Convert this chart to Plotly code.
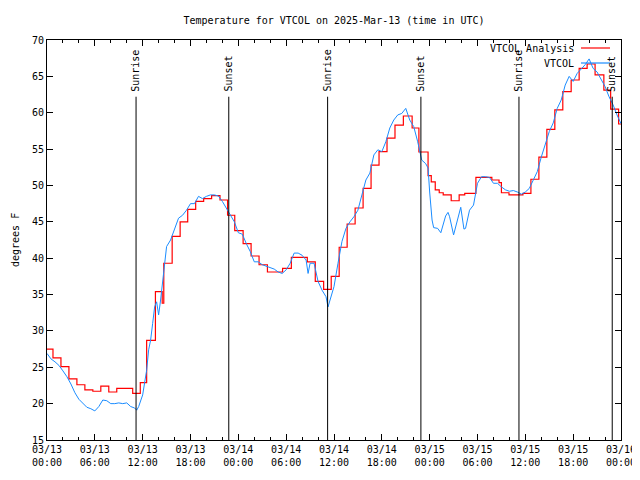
import plotly.graph_objects as go
import pandas as pd

# ---------------- data ----------------
START = pd.Timestamp("2025-03-13 00:00")

# VTCOL observations: hours since 2025-03-13 00:00 UTC, temperature (F)
obs_hours = [0, 0.5, 1, 1.5, 2, 2.5, 3, 3.5, 4, 4.5, 5, 5.5, 6, 6.5, 7, 7.5, 8, 8.5, 9, 9.5,
             10, 10.5, 11, 11.25, 11.5, 12, 12.5, 12.75, 13, 13.25, 13.5, 13.75, 14, 14.25, 14.5, 14.75,
             15, 15.5, 16, 16.5, 17, 17.5, 18, 18.5, 19, 19.5, 20, 20.5, 21, 21.5, 22, 22.5, 23, 23.5,
             24, 24.5, 25, 25.5, 26, 26.5, 27, 27.5, 28, 28.5, 29, 29.5, 30, 30.5, 31, 31.5, 32, 32.5,
             32.75, 33, 33.5, 34, 34.5, 35, 35.25, 35.5, 36, 36.5, 37, 37.5, 38, 38.5, 39, 39.5, 40,
             40.5, 41, 41.5, 42, 42.5, 43, 43.5, 44, 44.5, 45, 45.5, 46, 46.5, 47, 47.5, 47.8, 48, 48.3,
             48.5, 49, 49.4, 50, 50.3, 50.5, 51, 51.5, 51.9, 52.3, 52.5, 53, 53.5, 54, 54.5, 55, 55.5, 56,
             56.5, 57, 57.5, 58, 58.5, 59, 59.5, 60, 60.5, 61, 61.5, 62, 62.5, 63, 63.5, 64, 64.5, 65,
             65.5, 66, 66.5, 67, 67.5, 68, 68.5, 69, 69.5, 70, 70.5, 71, 71.5, 72]
obs_temps = [26.9, 26.15, 25.75, 25.25, 24.5, 23.7, 22.7, 21.5, 20.6, 20.0, 19.5, 19.3, 19.0, 19.6, 20.5, 20.4, 20.0, 20.0, 20.1, 20.0,
             20.1, 19.6, 19.4, 19.1, 19.6, 21.2, 24.6, 27.4, 28.75, 31.0, 33.3, 34.0, 32.2, 34.25, 37.0, 39.3,
             41.6, 42.5, 43.9, 45.5, 45.9, 46.6, 47.5, 47.5, 48.5, 48.2, 48.5, 48.7, 48.7, 48.55, 47.8, 46.85, 45.9, 45.0,
             43.5, 43.3, 42.0, 40.9, 39.5, 39.5, 39.1, 38.9, 38.6, 38.5, 38.1, 37.9, 38.4, 39.3, 40.7, 40.7, 40.4, 39.75,
             37.9, 39.3, 39.3, 36.8, 35.6, 34.7, 33.3, 34.3, 36.1, 39.3, 42.3, 44.1, 45.0, 45.7, 46.6, 48.7, 50.75,
             51.7, 54.2, 54.9, 54.65, 56.0, 57.9, 59.0, 59.7, 59.9, 60.6, 59.0, 58.1, 56.0, 53.5, 53.0, 52.4, 49.1, 45.25,
             44.2, 44.1, 43.5, 45.8, 46.3, 45.7, 43.2, 45.25, 47.0, 44.0, 44.1, 46.6, 47.3, 50.3, 51.2, 51.2, 51.1, 50.3,
             50.3, 49.8, 49.4, 49.2, 49.3, 49.1, 48.8, 49.1, 49.6, 50.75, 51.9, 53.9, 55.6, 57.4, 58.6, 60.6, 61.75, 63.8,
             65.0, 64.3, 65.4, 66.0, 66.6, 67.4, 66.1, 65.6, 64.5, 63.6, 62.2, 61.1, 59.7, 58.5]

# VTCOL Analysis: step start hours and values
ana_hours = [0, 0.75, 1.75, 2.75, 3.75, 4.75, 5.75, 6.75, 7.75, 8.75, 10.75, 11.7, 12.5, 13.6, 14.45, 14.65,
             15.7, 16.7, 17.65, 18.65, 19.65, 20.65, 21.7, 22.65, 23.55, 24.6, 25.6, 26.6, 27.65, 29.55,
             30.65, 32.65, 33.65, 34.7, 35.65, 36.65, 37.65, 38.65, 39.65, 40.65, 41.65, 42.65, 43.65, 44.7,
             45.8, 46.65, 47.8, 48.2, 48.7, 49.2, 49.7, 50.7, 51.7, 52.4, 53.8, 55.8, 56.7, 57.0, 57.95, 59.7,
             60.7, 61.7, 62.7, 63.7, 64.7, 65.75, 66.75, 67.75, 68.75, 69.85, 70.7, 71.7, 72]
ana_temps = [27.5, 26.3, 25.1, 23.4, 22.6, 21.9, 21.7, 22.4, 21.6, 22.1, 21.4, 22.9, 28.7, 35.4, 33.8, 39.3,
             43.0, 45.0, 46.7, 47.8, 48.2, 48.6, 48.0, 45.9, 43.8, 42.0, 40.3, 39.1, 38.1, 38.6,
             40.1, 39.5, 36.8, 35.7, 37.5, 41.5, 44.7, 46.9, 49.6, 52.8, 54.65, 56.5, 58.3, 59.55,
             57.9, 54.6, 51.35, 50.5, 49.4, 49.0, 48.7, 47.9, 48.7, 48.9, 51.1, 50.75, 50.4, 49.0, 48.7, 48.9,
             50.85, 53.9, 57.7, 60.4, 62.9, 64.5, 66.1, 66.7, 65.2, 63.1, 60.5, 58.45, 58.45]

# Sunrise / sunset markers
sun_hours = [11.17, 22.8, 35.2, 46.9, 59.2, 70.9]
sun_labels = ["Sunrise", "Sunset", "Sunrise", "Sunset", "Sunrise", "Sunset"]

# Axis ticks
tick_hours = [0, 6, 12, 18, 24, 30, 36, 42, 48, 54, 60, 66, 72]
tick_labels = ["03/13<br>00:00", "03/13<br>06:00", "03/13<br>12:00", "03/13<br>18:00",
               "03/14<br>00:00", "03/14<br>06:00", "03/14<br>12:00", "03/14<br>18:00",
               "03/15<br>00:00", "03/15<br>06:00", "03/15<br>12:00", "03/15<br>18:00",
               "03/16<br>00:00"]
y_ticks = [15, 20, 25, 30, 35, 40, 45, 50, 55, 60, 65, 70]

series_names = ["VTCOL Analysis", "VTCOL"]
series_colors = ["#ff0000", "#1a8cff"]

# ---------------- figure ----------------
def to_time(hours):
    return [START + pd.Timedelta(hours=h) for h in hours]

FONT = "DejaVu Sans Mono, Liberation Mono, monospace"
OFF = 8                      # page body margin of the html page
W, H = 640 - OFF, 480 - OFF
L, R, T, B = 47 - OFF, 19, 40 - OFF, 40
PW, PH = W - L - R, H - T - B   # 574 x 400, plot spans 47..621 / 40..440 on screen

fig = go.Figure()
fig.add_trace(go.Scatter(x=to_time(ana_hours), y=ana_temps, mode="lines",
                         line=dict(color=series_colors[0], width=1.2, shape="hv"),
                         name=series_names[0], showlegend=False))
fig.add_trace(go.Scatter(x=to_time(obs_hours), y=obs_temps, mode="lines",
                         line=dict(color=series_colors[1], width=1),
                         name=series_names[1], showlegend=False))

shapes = []
annotations = []
for h, lab in zip(sun_hours, sun_labels):
    tt = START + pd.Timedelta(hours=h)
    shapes.append(dict(type="line", xref="x", yref="y", x0=tt, x1=tt, y0=15, y1=62.2,
                       line=dict(color="black", width=1)))
    annotations.append(dict(x=tt, y=62.6, xref="x", yref="y", text=lab, textangle=-90,
                            showarrow=False, xanchor="center", yanchor="bottom",
                            font=dict(family=FONT, size=10, color="black")))

# manual legend (text on the left, sample on the right, gnuplot style)
leg_y = [48, 63]
for name, col, py in zip(series_names, series_colors, leg_y):
    yp = 1 - (py - 40) / PH
    annotations.append(dict(x=(576 - 47) / PW, y=yp, xref="paper", yref="paper", text=name,
                            showarrow=False, xanchor="right", yanchor="middle",
                            font=dict(family=FONT, size=10, color="black")))
    shapes.append(dict(type="line", xref="paper", yref="paper",
                       x0=(581 - 47) / PW, x1=(610 - 47) / PW, y0=yp, y1=yp,
                       line=dict(color=col, width=1.2)))

# y-axis title placed like gnuplot's ylabel
annotations.append(dict(x=(15 - 47) / PW, y=0.5, xref="paper", yref="paper", text="degrees F",
                        textangle=-90, showarrow=False, xanchor="center", yanchor="middle",
                        font=dict(family=FONT, size=10, color="black")))

fig.update_layout(
    width=W, height=H,
    margin=dict(l=L, r=R, t=T, b=B, autoexpand=False),
    paper_bgcolor="white", plot_bgcolor="white",
    font=dict(family=FONT, size=10, color="black"),
    title=dict(text="Temperature for VTCOL on 2025-Mar-13 (time in UTC)",
               x=0.5, xref="paper", xanchor="center", y=1 - (20 - OFF) / H, yanchor="middle",
               font=dict(family=FONT, size=10, color="black")),
    shapes=shapes, annotations=annotations,
    showlegend=False,
)
fig.update_xaxes(
    range=[START, START + pd.Timedelta(hours=72)], automargin=False,
    tickvals=to_time(tick_hours), ticktext=tick_labels,
    ticks="inside", ticklen=6, tickcolor="black", tickwidth=1,
    minor=dict(dtick=2 * 3600 * 1000, tick0=START, ticks="inside", ticklen=3,
               tickcolor="black", tickwidth=1, showgrid=False),
    showline=True, linecolor="black", linewidth=1, mirror="ticks",
    showgrid=False, zeroline=False, tickfont=dict(family=FONT, size=10),
)
fig.update_yaxes(
    range=[15, 70], tickvals=y_ticks, automargin=False,
    ticks="inside", ticklen=6, tickcolor="black", tickwidth=1,
    showline=True, linecolor="black", linewidth=1, mirror="ticks",
    showgrid=False, zeroline=False, tickfont=dict(family=FONT, size=10),
)

fig.write_html("out.html")
